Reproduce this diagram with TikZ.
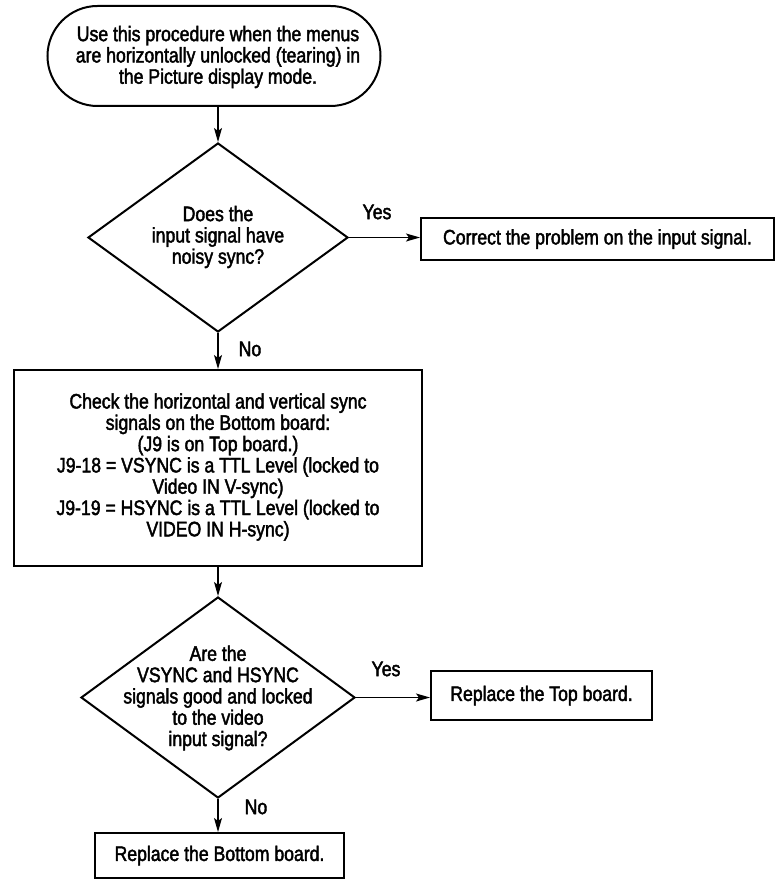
\documentclass[tikz,border=0pt]{standalone}
\usepackage{fontspec}
\setmainfont{Liberation Sans}[FakeStretch=0.84,FakeBold=2]
\usetikzlibrary{shapes.geometric,arrows.meta}
\begin{document}
\begin{tikzpicture}[x=1pt,y=-1pt,
  every node/.style={font=\fontsize{21}{21.3}\selectfont},
  box/.style={draw, line width=2pt, inner sep=0pt},
  dec/.style={draw, diamond, line width=2pt, inner sep=0pt},
  term/.style={draw, rounded corners=50pt, line width=2pt, inner sep=0pt},
  txt/.style={align=center, inner sep=0pt},
  arr/.style={-{Stealth[length=14pt,width=8pt,inset=3pt]}, line width=1.2pt},
  lab/.style={inner sep=0pt}]
\useasboundingbox (0,0) rectangle (775,880);

% start terminal
\node[term, minimum width=333pt, minimum height=100pt] (start) at (214,56) {};
\node[txt] (starttxt) at (218,57) {Use this procedure when the menus\\are horizontally unlocked (tearing) in\\the Picture display mode.};

% decision 1
\node[dec, minimum width=260pt, minimum height=189pt] (d1) at (218,237.5) {};
\node[txt] (d1txt) at (218,237) {Does the\\input signal have\\noisy sync?};

% box 1
\node[box, minimum width=353pt, minimum height=42pt] (box1) at (597.5,239) {};
\node[txt] (box1txt) at (box1) {Correct the problem on the input signal.};

% box 2
\node[box, minimum width=408pt, minimum height=196pt] (box2) at (218,468) {};
\node[txt] (box2txt) at (218,467) {Check the horizontal and vertical sync\\signals on the Bottom board:\\(J9 is on Top board.)\\J9-18 = VSYNC is a TTL Level (locked to\\Video IN V-sync)\\J9-19 = HSYNC is a TTL Level (locked to\\VIDEO IN H-sync)};

% decision 2
\node[dec, minimum width=274pt, minimum height=201pt] (d2) at (218,697.5) {};
\node[txt] (d2txt) at (218,698) {Are the\\VSYNC and HSYNC\\signals good and locked\\to the video\\input signal?};

% top board box
\node[box, minimum width=221pt, minimum height=49pt] (topb) at (541.5,695.5) {};
\node[txt] (topbtxt) at (topb) {Replace the Top board.};

% bottom board box
\node[box, minimum width=249pt, minimum height=45pt] (botb) at (219.5,855.5) {};
\node[txt] (botbtxt) at (botb) {Replace the Bottom board.};

% labels
\node[lab] (yes1) at (377,212) {Yes};
\node[lab] (no1) at (250,349) {No};
\node[lab] (yes2) at (386,669) {Yes};
\node[lab] (no2) at (256,807) {No};

% connectors
\draw[arr] (start.south -| d1.north) -- (d1.north);
\draw[arr] (d1.east) -- (d1.east -| box1.west);
\draw[arr] (d1.south) -- (d1.south |- box2.north);
\draw[arr] (box2.south -| d2.north) -- (d2.north);
\draw[arr] (d2.east) -- (d2.east -| topb.west);
\draw[arr] (d2.south) -- (d2.south |- botb.north);
\end{tikzpicture}
\end{document}
